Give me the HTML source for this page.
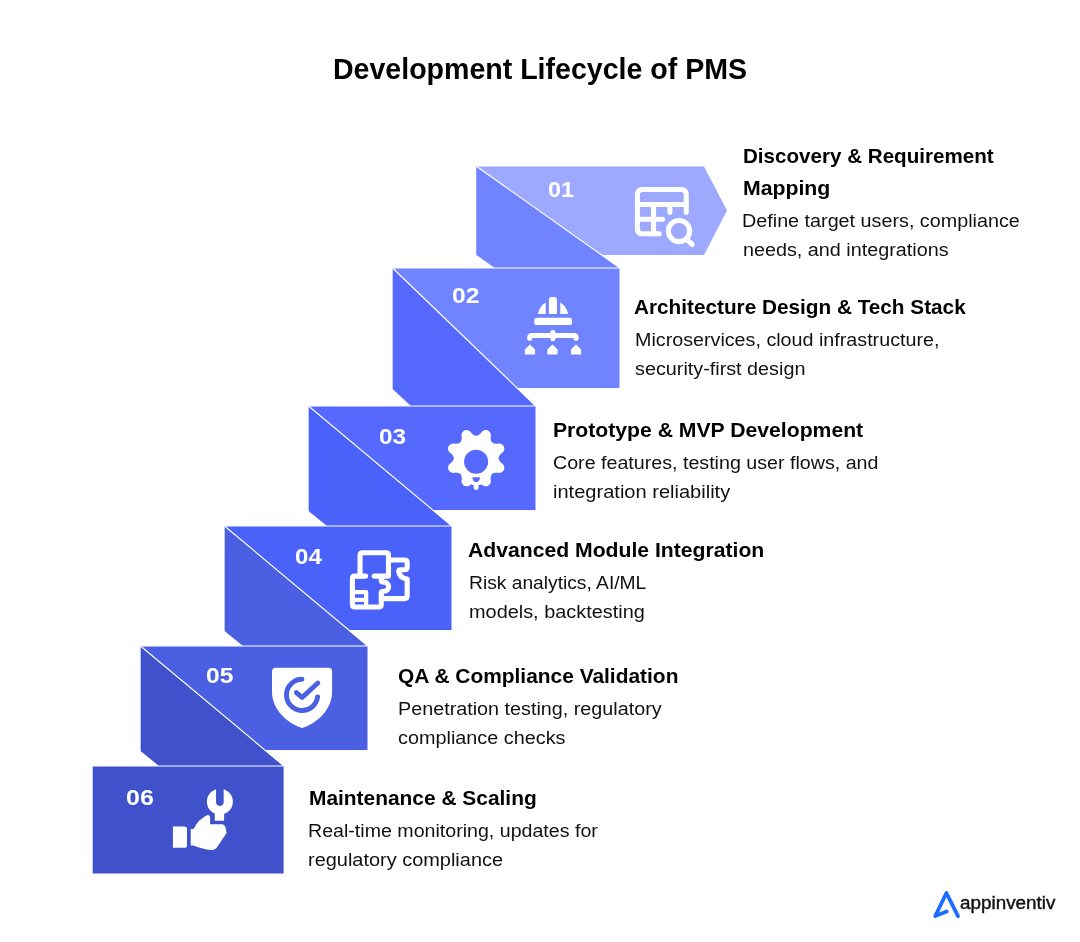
<!DOCTYPE html>
<html lang="en">
<head>
<meta charset="utf-8">
<title>Development Lifecycle of PMS</title>
<style>
html,body{margin:0;padding:0;background:#fff;}
body{width:1080px;height:942px;overflow:hidden;position:relative;font-family:"Liberation Sans", Arial, sans-serif;}
#stage{position:absolute;left:0;top:0;width:1080px;height:942px;overflow:hidden;background:#fff;will-change:transform;}
#art{position:absolute;left:0;top:0;}
.steps,.step,h1,h3,p{margin:0;padding:0;list-style:none;font-size:0;line-height:0;}
.t{position:absolute;display:block;margin:0;padding:0;white-space:nowrap;line-height:1.2;transform-origin:0 0;font-family:"Liberation Sans", Arial, sans-serif;}
.title,.h,.n{font-weight:700;}
.b{font-weight:400;}
.logo{font-weight:400;-webkit-text-stroke:0.4px #111;}
.title,.h{color:#000;}
.b{color:#111;}
.n{color:#fff;}
.logo{color:#111;}
</style>
</head>
<body>
<div id="stage">
<svg id="art" width="1080" height="942" viewBox="0 0 1080 942" aria-hidden="true">
<polygon class="face" points="476.4,166.45 704.0,166.45 727,210.6 704.0,255.05 476.4,255.05" fill="#9DA9FF"/>
<rect class="face" x="392.8" y="268.5" width="226.70" height="119.55" fill="#7084FF"/>
<rect class="face" x="308.8" y="406.5" width="226.70" height="103.55" fill="#5569FF"/>
<rect class="face" x="224.8" y="526.5" width="226.70" height="103.55" fill="#4A61FA"/>
<rect class="face" x="140.8" y="646.5" width="226.70" height="103.55" fill="#4A5FE2"/>
<rect class="face" x="92.7" y="766.5" width="190.90" height="107.00" fill="#3F51CB"/>
<polygon class="fold" points="476.40,166.45 619.00,267.50 494.00,267.50 476.40,255.05" fill="#7084FF"/>
<line class="seam" x1="476.70" y1="166.45" x2="619.30" y2="267.50" stroke="#fff" stroke-width="1.15"/>
<polygon class="fold" points="392.80,268.50 535.00,405.50 410.40,405.50 392.80,389.15" fill="#5569FF"/>
<line class="seam" x1="393.10" y1="268.50" x2="535.30" y2="405.50" stroke="#fff" stroke-width="1.15"/>
<polygon class="fold" points="308.80,406.50 451.00,525.50 326.40,525.50 308.80,511.15" fill="#4A61FA"/>
<line class="seam" x1="309.10" y1="406.50" x2="451.30" y2="525.50" stroke="#fff" stroke-width="1.15"/>
<polygon class="fold" points="224.80,526.50 367.00,645.50 242.40,645.50 224.80,631.15" fill="#4A5FE2"/>
<line class="seam" x1="225.10" y1="526.50" x2="367.30" y2="645.50" stroke="#fff" stroke-width="1.15"/>
<polygon class="fold" points="140.80,646.50 283.10,765.50 158.40,765.50 140.80,751.15" fill="#3F51CB"/>
<line class="seam" x1="141.10" y1="646.50" x2="283.40" y2="765.50" stroke="#fff" stroke-width="1.15"/>
<g transform="translate(620 175) scale(0.084906)" fill="none" stroke="#fff" stroke-width="60" stroke-linecap="round" stroke-linejoin="round">
<path d="M780 440V230Q780 170 720 170H265Q205 170 205 230V632Q205 692 265 692H462"/>
<path d="M205 348H780M205 522H500M395 348V692M588 348V440"/>
<circle cx="695" cy="660" r="125"/>
<path d="M790 762L850 818"/>
</g>
<g transform="translate(510 285) scale(0.084906)" fill="#fff">
<path d="M458 342V170Q458 140 488 140H523Q553 140 553 170V342Z"/>
<path d="M328 342H420V205Q345 250 328 342Z"/>
<path d="M685 342H592V205Q668 250 685 342Z"/>
<rect x="285" y="385" width="445" height="87" rx="30"/>
<path d="M232 628V620Q232 595 257 595H753Q778 595 778 620V628M505 560V630" fill="none" stroke="#fff" stroke-width="60" stroke-linecap="round" stroke-linejoin="round"/>
<path d="M175 818V760L235 700L295 760V818Z"/>
<path d="M440 818V760L500 700L560 760V818Z"/>
<path d="M718 818V760L778 700L838 760V818Z"/>
</g>
<g transform="translate(430 420) scale(0.084906)">
<path d="M544.0 186.0L548.6 185.7L553.3 184.9L558.0 183.6L562.8 181.8L567.7 179.4L572.7 176.5L578.0 173.0L583.5 169.0L589.2 164.3L595.4 158.7L602.1 150.9L610.2 138.7L617.3 132.7L624.2 128.2L631.1 124.8L638.0 122.2L644.8 120.3L651.5 119.2L658.0 118.8L664.4 119.2L670.6 120.2L676.6 121.8L682.3 124.2L687.7 127.2L692.8 130.9L697.5 135.2L701.9 140.1L705.8 145.6L709.3 151.7L712.4 158.4L714.8 165.7L716.6 173.8L717.3 183.1L714.4 197.4L713.7 207.7L714.0 216.0L714.8 223.4L715.8 230.1L717.1 236.3L718.6 241.9L720.4 247.1L722.5 251.8L724.9 256.0L727.6 259.9L730.7 263.3L734.1 266.4L738.0 269.1L742.2 271.5L746.9 273.6L752.1 275.4L757.7 276.9L763.9 278.2L770.6 279.2L778.0 280.0L786.3 280.3L796.6 279.6L810.9 276.7L820.2 277.4L828.3 279.2L835.6 281.6L842.3 284.7L848.4 288.2L853.9 292.1L858.8 296.5L863.1 301.2L866.8 306.3L869.8 311.7L872.2 317.4L873.8 323.4L874.8 329.6L875.2 336.0L874.8 342.5L873.7 349.2L871.8 356.0L869.2 362.9L865.8 369.8L861.3 376.7L855.3 383.8L843.1 391.9L835.3 398.6L829.7 404.8L825.0 410.5L821.0 416.0L817.5 421.3L814.6 426.3L812.2 431.2L810.4 436.0L809.1 440.7L808.3 445.4L808.0 450.0L808.3 454.6L809.1 459.3L810.4 464.0L812.2 468.8L814.6 473.7L817.5 478.7L821.0 484.0L825.0 489.5L829.7 495.2L835.3 501.4L843.1 508.1L855.3 516.2L861.3 523.3L865.8 530.2L869.2 537.1L871.8 544.0L873.7 550.8L874.8 557.5L875.2 564.0L874.8 570.4L873.8 576.6L872.2 582.6L869.8 588.3L866.8 593.7L863.1 598.8L858.8 603.5L853.9 607.9L848.4 611.8L842.3 615.3L835.6 618.4L828.3 620.8L820.2 622.6L810.9 623.3L796.6 620.4L786.3 619.7L778.0 620.0L770.6 620.8L763.9 621.8L757.7 623.1L752.1 624.6L746.9 626.4L742.2 628.5L738.0 630.9L734.1 633.6L730.7 636.7L727.6 640.1L724.9 644.0L722.5 648.2L720.4 652.9L718.6 658.1L717.1 663.7L715.8 669.9L714.8 676.6L714.0 684.0L713.7 692.3L714.4 702.6L717.3 716.9L716.6 726.2L714.8 734.3L712.4 741.6L709.3 748.3L705.8 754.4L701.9 759.9L697.5 764.8L692.8 769.1L687.7 772.8L682.3 775.8L676.6 778.2L670.6 779.8L664.4 780.8L658.0 781.2L651.5 780.8L644.8 779.7L638.0 777.8L631.1 775.2L624.2 771.8L617.3 767.3L610.2 761.3L602.1 749.1L595.4 741.3L589.2 735.7L583.5 731.0L578.0 727.0L572.7 723.5L567.7 720.6L562.8 718.2L558.0 716.4L553.3 715.1L548.6 714.3L544.0 714.0L539.4 714.3L534.7 715.1L530.0 716.4L525.2 718.2L520.3 720.6L515.3 723.5L510.0 727.0L504.5 731.0L498.8 735.7L492.6 741.3L485.9 749.1L477.8 761.3L470.7 767.3L463.8 771.8L456.9 775.2L450.0 777.8L443.2 779.7L436.5 780.8L430.0 781.2L423.6 780.8L417.4 779.8L411.4 778.2L405.7 775.8L400.3 772.8L395.2 769.1L390.5 764.8L386.1 759.9L382.2 754.4L378.7 748.3L375.6 741.6L373.2 734.3L371.4 726.2L370.7 716.9L373.6 702.6L374.3 692.3L374.0 684.0L373.2 676.6L372.2 669.9L370.9 663.7L369.4 658.1L367.6 652.9L365.5 648.2L363.1 644.0L360.4 640.1L357.3 636.7L353.9 633.6L350.0 630.9L345.8 628.5L341.1 626.4L335.9 624.6L330.3 623.1L324.1 621.8L317.4 620.8L310.0 620.0L301.7 619.7L291.4 620.4L277.1 623.3L267.8 622.6L259.7 620.8L252.4 618.4L245.7 615.3L239.6 611.8L234.1 607.9L229.2 603.5L224.9 598.8L221.2 593.7L218.2 588.3L215.8 582.6L214.2 576.6L213.2 570.4L212.8 564.0L213.2 557.5L214.3 550.8L216.2 544.0L218.8 537.1L222.2 530.2L226.7 523.3L232.7 516.2L244.9 508.1L252.7 501.4L258.3 495.2L263.0 489.5L267.0 484.0L270.5 478.7L273.4 473.7L275.8 468.8L277.6 464.0L278.9 459.3L279.7 454.6L280.0 450.0L279.7 445.4L278.9 440.7L277.6 436.0L275.8 431.2L273.4 426.3L270.5 421.3L267.0 416.0L263.0 410.5L258.3 404.8L252.7 398.6L244.9 391.9L232.7 383.8L226.7 376.7L222.2 369.8L218.8 362.9L216.2 356.0L214.3 349.2L213.2 342.5L212.8 336.0L213.2 329.6L214.2 323.4L215.8 317.4L218.2 311.7L221.2 306.3L224.9 301.2L229.2 296.5L234.1 292.1L239.6 288.2L245.7 284.7L252.4 281.6L259.7 279.2L267.8 277.4L277.1 276.7L291.4 279.6L301.7 280.3L310.0 280.0L317.4 279.2L324.1 278.2L330.3 276.9L335.9 275.4L341.1 273.6L345.8 271.5L350.0 269.1L353.9 266.4L357.3 263.3L360.4 259.9L363.1 256.0L365.5 251.8L367.6 247.1L369.4 241.9L370.9 236.3L372.2 230.1L373.2 223.4L374.0 216.0L374.3 207.7L373.6 197.4L370.7 183.1L371.4 173.8L373.2 165.7L375.6 158.4L378.7 151.7L382.2 145.6L386.1 140.1L390.5 135.2L395.2 130.9L400.3 127.2L405.7 124.2L411.4 121.8L417.4 120.2L423.6 119.2L430.0 118.8L436.5 119.2L443.2 120.3L450.0 122.2L456.9 124.8L463.8 128.2L470.7 132.7L477.8 138.7L485.9 150.9L492.6 158.7L498.8 164.3L504.5 169.0L510.0 173.0L515.3 176.5L520.3 179.4L525.2 181.8L530.0 183.6L534.7 184.9L539.4 185.7Z" fill="#fff"/>
<rect x="480" y="640" width="128" height="125" rx="20" fill="#fff"/>
<path d="M515 740H572V797Q572 825 543.5 825Q515 825 515 797Z" fill="#fff"/>
<circle cx="543" cy="492" r="142" fill="#5569FF"/>
<path d="M500 675H588Q588 730 544 730Q500 730 500 675Z" fill="#5569FF"/>
</g>
<g transform="translate(335 540) scale(0.084906)" fill="none" stroke="#fff" stroke-width="60" stroke-linecap="round" stroke-linejoin="round">
<path d="M295 425V180Q295 150 325 150H600Q630 150 630 180V425H462"/>
<path d="M360 425H235Q205 425 205 455V760Q205 790 235 790H515Q545 790 545 760V618Q545 604 578 604A54 54 0 0 0 578 496Q545 496 545 482V440"/>
<path d="M660 235H820Q850 235 850 265V320Q850 350 820 350H772Q750 350 750 372Q765 452 850 460V660Q850 690 820 690H575"/>
<path d="M220 615H367V780M235 705H367" stroke-width="50"/>
</g>
<g transform="translate(255 655) scale(0.084906)">
<path d="M200 195Q200 150 245 150H863Q908 150 908 195V430C908 640 740 800 555 860C370 800 200 640 200 430Z" fill="#fff"/>
<g fill="none" stroke="#4A5FE2" stroke-width="58" stroke-linecap="round" stroke-linejoin="round">
<path d="M553 286A184 184 0 1 0 737 495"/>
<path d="M487 442L555 500L740 330"/>
</g></g>
<g transform="translate(160 780) scale(0.084906)" fill="#fff">
<path d="M152 548H288Q318 548 318 578V768Q318 798 288 798H152Z"/>
<path d="M362 578H395Q450 460 560 412Q590 412 590 440V520H735Q765 525 772 560L785 625L665 800Q645 825 610 825Q480 810 395 770H362Z"/>
<circle cx="705" cy="255" r="153"/>
<rect x="645" y="380" width="110" height="100"/>
<path d="M660 90V260Q660 305 705 305Q750 305 750 260V90Z" fill="#3F51CB"/>
</g>
<path d="M935.3 916.0L946.4 893.0L958.0 916.2M935.3 916.0L946.7 911.4" fill="none" stroke="#1E6BFF" stroke-width="3.8" stroke-linecap="round" stroke-linejoin="round"/>
</svg>
<h1 class="t title" style="left:333.07px;top:51px;font-size:29.6px;transform:scaleX(0.9645)">Development Lifecycle of PMS</h1>
<ol class="steps">
<li class="step step-1">
<span class="t n" style="left:547.66px;top:177px;font-size:21.7px;transform:scaleX(1.0785)">01</span>
<h3><span class="t h" style="left:742.51px;top:144px;font-size:20.4px;transform:scaleX(1.0100)">Discovery &amp; Requirement</span> <span class="t h" style="left:743.47px;top:176px;font-size:20.4px;transform:scaleX(1.0416)">Mapping</span></h3>
<p><span class="t b" style="left:741.92px;top:210px;font-size:19.1px;transform:scaleX(1.0345)">Define target users, compliance</span> <span class="t b" style="left:743.31px;top:239px;font-size:19.1px;transform:scaleX(1.0355)">needs, and integrations</span></p>
</li>
<li class="step step-2">
<span class="t n" style="left:451.60px;top:283px;font-size:21.7px;transform:scaleX(1.1397)">02</span>
<h3><span class="t h" style="left:634.09px;top:295px;font-size:20.4px;transform:scaleX(1.0175)">Architecture Design &amp; Tech Stack</span></h3>
<p><span class="t b" style="left:634.82px;top:329px;font-size:19.1px;transform:scaleX(1.0320)">Microservices, cloud infrastructure,</span> <span class="t b" style="left:635.15px;top:358px;font-size:19.1px;transform:scaleX(1.0361)">security-first design</span></p>
</li>
<li class="step step-3">
<span class="t n" style="left:378.62px;top:424px;font-size:21.7px;transform:scaleX(1.1244)">03</span>
<h3><span class="t h" style="left:552.97px;top:418px;font-size:20.4px;transform:scaleX(1.0382)">Prototype &amp; MVP Development</span></h3>
<p><span class="t b" style="left:553.07px;top:452px;font-size:19.1px;transform:scaleX(1.0289)">Core features, testing user flows, and</span> <span class="t b" style="left:552.79px;top:481px;font-size:19.1px;transform:scaleX(1.0501)">integration reliability</span></p>
</li>
<li class="step step-4">
<span class="t n" style="left:294.63px;top:544px;font-size:21.7px;transform:scaleX(1.1114)">04</span>
<h3><span class="t h" style="left:467.58px;top:538px;font-size:20.4px;transform:scaleX(1.0378)">Advanced Module Integration</span></h3>
<p><span class="t b" style="left:469.06px;top:572px;font-size:19.1px;transform:scaleX(1.0065)">Risk analytics, AI/ML</span> <span class="t b" style="left:469.10px;top:601px;font-size:19.1px;transform:scaleX(1.0416)">models, backtesting</span></p>
</li>
<li class="step step-5">
<span class="t n" style="left:205.71px;top:663px;font-size:21.7px;transform:scaleX(1.1359)">05</span>
<h3><span class="t h" style="left:398.10px;top:664px;font-size:20.4px;transform:scaleX(1.0255)">QA &amp; Compliance Validation</span></h3>
<p><span class="t b" style="left:398.02px;top:698px;font-size:19.1px;transform:scaleX(1.0351)">Penetration testing, regulatory</span> <span class="t b" style="left:398.19px;top:727px;font-size:19.1px;transform:scaleX(1.0385)">compliance checks</span></p>
</li>
<li class="step step-6">
<span class="t n" style="left:125.69px;top:785px;font-size:21.7px;transform:scaleX(1.1511)">06</span>
<h3><span class="t h" style="left:309.39px;top:786px;font-size:20.4px;transform:scaleX(1.0252)">Maintenance &amp; Scaling</span></h3>
<p><span class="t b" style="left:308.03px;top:820px;font-size:19.1px;transform:scaleX(1.0267)">Real-time monitoring, updates for</span> <span class="t b" style="left:307.79px;top:849px;font-size:19.1px;transform:scaleX(1.0441)">regulatory compliance</span></p>
</li>
</ol>
<div class="brand"><span class="t logo" style="left:959.99px;top:893px;font-size:17.5px;transform:scaleX(1.0773)">appinventiv</span></div>
</div>
</body>
</html>
